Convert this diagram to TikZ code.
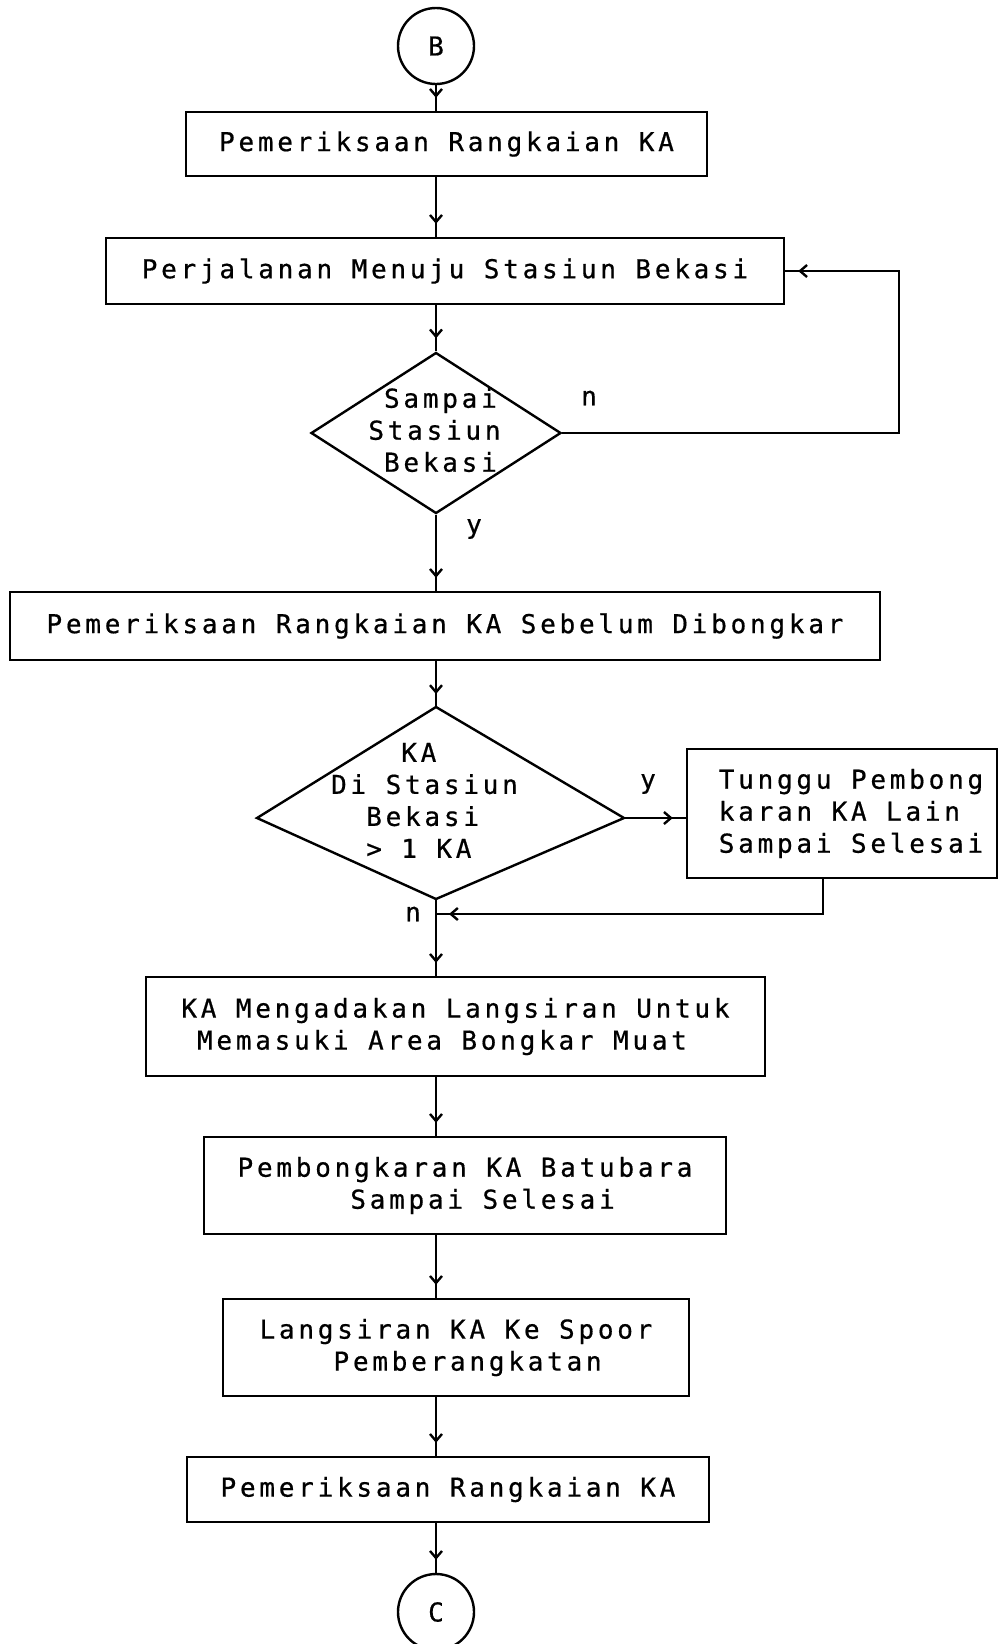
\documentclass[tikz,border=0pt]{standalone}
\usepackage{fontspec}
\newfontfamily\dotfont[LetterSpace=14.5,FakeBold=0.6]{DejaVu Sans Mono}
\usetikzlibrary{shapes.geometric,arrows.meta,decorations.markings}

\begin{document}
\begin{tikzpicture}[x=1pt,y=-1pt,
  every node/.style={font=\dotfont\fontsize{26}{32}\selectfont},
  flow/.style={line width=2.4pt, draw=black},
  box/.style={draw, line width=2.4pt, rectangle, inner sep=0pt, align=left},
  decision/.style={draw, line width=2.4pt, diamond, inner sep=0pt},
  conn/.style={draw, circle, line width=2.4pt, minimum size=76pt, inner sep=0pt},
  txt/.style={inner sep=0pt, align=left},
  tipnear/.style={postaction={decorate},
    decoration={markings, mark=at position -13pt with
      {\arrow{Straight Barb[length=7pt,width=12pt,line width=2.4pt]}}}},
]
% page
\path[fill=white] (0,0) rectangle (1001,1644);
\useasboundingbox (0,0) rectangle (1001,1644);

% connectors on/off page
\node[conn] (b) at (436,46) {B};
\node[conn] (c) at (436,1612) {C};

% process boxes
\node[box, minimum width=521pt, minimum height=64pt] (p1) at (446.5,144) {Pemeriksaan Rangkaian KA};
\node[box, minimum width=678pt, minimum height=66pt] (p2) at (445,271) {Perjalanan Menuju Stasiun Bekasi};
\node[box, minimum width=870pt, minimum height=68pt] (p3) at (445,626) {Pemeriksaan Rangkaian KA Sebelum Dibongkar};
\node[box, minimum width=310pt, minimum height=129pt] (p4) at (842,813.5) {};
\node[txt] (p4t) at (851,813.5) {Tunggu Pembong\\karan KA Lain\\Sampai Selesai};
\node[box, minimum width=619pt, minimum height=99pt] (p5) at (455.5,1026.5)
  {KA Mengadakan Langsiran Untuk\\\phantom{K}Memasuki Area Bongkar Muat};
\node[box, minimum width=522pt, minimum height=97pt] (p6) at (465,1185.5)
  {Pembongkaran KA Batubara\\\phantom{Pembon}Sampai Selesai};
\node[box, minimum width=466pt, minimum height=97pt] (p7) at (456,1347.5)
  {Langsiran KA Ke Spoor\\\phantom{Lang}Pemberangkatan};
\node[box, minimum width=522pt, minimum height=65pt] (p8) at (448,1489.5) {Pemeriksaan Rangkaian KA};

% first decision
\node[decision, minimum width=250pt, minimum height=161pt] (d1) at (436,433) {};
\node[txt] (d1t) at (434.5,430) {\phantom{S}Sampai\\Stasiun\\\phantom{S}Bekasi};

% second decision (drawn as a quadrilateral)
\coordinate (d2n) at (436,707);
\coordinate (d2e) at (624,818);
\coordinate (d2s) at (436,899);
\coordinate (d2w) at (257,818);
\draw[flow] (d2n) -- (d2e) -- (d2s) -- (d2w) -- cycle;
\node[txt] (d2t) at (424.5,800) {\phantom{Di S}KA\\Di Stasiun\\\phantom{Di}Bekasi\\\phantom{Di}> 1 KA};

% branch labels
\node (ln1) at (589,398) {n};
\node (ly1) at (474,529) {y};
\node (ly2) at (648,784) {y};
\node (ln2) at (413,914) {n};

% helper points for the loops
\coordinate (loopc) at (899,433);
\coordinate (ret) at (823,914);
\coordinate (join) at (436,914);

% flow lines
\draw[flow,tipnear] (b.south) -- (b.south |- p1.north);
\draw[flow,tipnear] (b.south |- p1.south) -- (b.south |- p2.north);
\draw[flow,tipnear] (b.south |- p2.south) -- (d1.north);
\draw[flow,tipnear] (d1.east) -- (d1.east -| loopc) |- (p2.east);
\draw[flow,tipnear] (d1.south) -- (d1.south |- p3.north);
\draw[flow,tipnear] (b.south |- p3.south) -- (d2n);
\draw[flow,tipnear] (d2e) -- (d2e -| p4.west);
\draw[flow,tipnear] (ret |- p4.south) -- (ret) -- (join);
\draw[flow,tipnear] (d2s) -- (d2s |- p5.north);
\draw[flow,tipnear] (b.south |- p5.south) -- (b.south |- p6.north);
\draw[flow,tipnear] (b.south |- p6.south) -- (b.south |- p7.north);
\draw[flow,tipnear] (b.south |- p7.south) -- (b.south |- p8.north);
\draw[flow,tipnear] (b.south |- p8.south) -- (c.north);
\end{tikzpicture}
\end{document}
